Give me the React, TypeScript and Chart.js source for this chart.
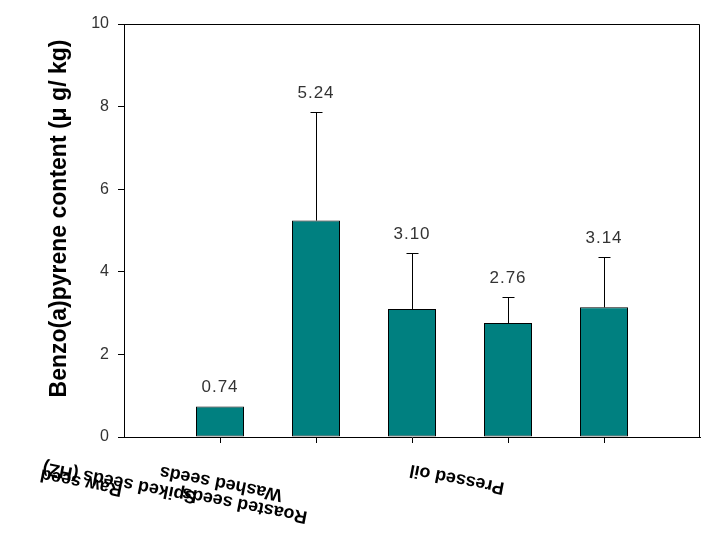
import React, { useEffect, useRef } from 'react';
import { Chart, registerables } from 'chart.js';

Chart.register(...registerables);

// ---- data ----
const categories = ['', 'Raw seed', 'Spiked seeds (HZ)', 'Washed seeds', 'Roasted seeds', 'Pressed oil', ''];
const meanValues: (number | null)[] = [null, 0.74, 5.24, 3.1, 2.76, 3.14, null];
const errorValues: (number | null)[] = [null, 0, 2.63, 1.35, 0.63, 1.22, null];
const yTicks = [0, 2, 4, 6, 8, 10];
const yTitle = 'Benzo(a)pyrene content (\u03bc g/ kg)';

// ---- layout of the rotated category labels (offset from tick / axis) ----
const labelNudge: [number, number][] = [[0, 0], [-97, 48], [-119, 55], [-129, 53], [-200, 75], [-99, 46], [0, 0]];

const decorPlugin = {
  id: 'decor',
  afterDatasetsDraw(chart: any) {
    const ctx = chart.ctx;
    const y = chart.scales.y;
    const meta = chart.getDatasetMeta(0);
    ctx.save();
    ctx.strokeStyle = '#000';
    ctx.lineWidth = 1;
    meta.data.forEach((bar: any, i: number) => {
      const v = meanValues[i];
      if (v == null) return;
      const e = errorValues[i] || 0;
      const top = y.getPixelForValue(v + e);
      const bx = Math.round(bar.x) + 0.5;
      const ty = Math.round(top) + 0.5;
      if (e > 0) {
        ctx.beginPath();
        ctx.moveTo(bx, bar.y);
        ctx.lineTo(bx, ty);
        ctx.moveTo(bx - 6, ty);
        ctx.lineTo(bx + 6, ty);
        ctx.stroke();
      }
      ctx.fillStyle = '#333';
      ctx.font = '17px "Liberation Sans", Arial, sans-serif';
      (ctx as any).letterSpacing = '1px';
      ctx.textAlign = 'center';
      ctx.textBaseline = 'alphabetic';
      ctx.fillText(v.toFixed(2), bar.x, top - 14);
      (ctx as any).letterSpacing = '0px';
    });
    ctx.restore();
  },
  afterDraw(chart: any) {
    const ctx = chart.ctx;
    const { left, right, top, bottom } = chart.chartArea;
    const x = chart.scales.x;
    ctx.save();
    // frame
    ctx.strokeStyle = '#000';
    ctx.lineWidth = 1;
    ctx.beginPath();
    ctx.moveTo(Math.round(left) + 0.5, Math.round(top) + 0.5);
    ctx.lineTo(Math.round(right) - 0.5, Math.round(top) + 0.5);
    ctx.lineTo(Math.round(right) - 0.5, Math.round(bottom) + 0.5);
    ctx.stroke();

    // rotated category labels
    ctx.fillStyle = '#000';
    ctx.font = 'bold 18px "Liberation Sans", Arial, sans-serif';
    ctx.textAlign = 'left';
    ctx.textBaseline = 'alphabetic';
    categories.forEach((label, i) => {
      if (!label) return;
      const px = x.getPixelForTick(i) + labelNudge[i][0];
      const py = bottom + labelNudge[i][1];
      ctx.save();
      ctx.translate(px, py);
      ctx.rotate((191 * Math.PI) / 180);
      ctx.fillText(label, 0, 0);
      ctx.restore();
    });

    // y axis title
    ctx.font = 'bold 23px "Liberation Sans", Arial, sans-serif';
    ctx.textAlign = 'center';
    ctx.textBaseline = 'middle';
    ctx.translate(60, (top + bottom) / 2 - 12);
    ctx.rotate(-Math.PI / 2);
    ctx.fillText(yTitle, 0, 0);
    ctx.restore();
  },
};

export default function App() {
  const ref = useRef<HTMLCanvasElement>(null);
  useEffect(() => {
    if (!ref.current) return;
    const chart = new Chart(ref.current, {
      type: 'bar',
      data: {
        labels: categories,
        datasets: [
          {
            data: meanValues as any,
            backgroundColor: '#008080',
            borderColor: '#000',
            borderWidth: 1,
            borderSkipped: false,
            barPercentage: 0.5,
            categoryPercentage: 1,
          },
        ],
      },
      options: {
        responsive: false,
        animation: false,
        layout: { padding: { top: 24, right: 19, left: 0, bottom: 0 } },
        plugins: { legend: { display: false }, tooltip: { enabled: false } },
        scales: {
          x: {
            type: 'category',
            offset: false,
            grid: {
              offset: false,
              drawOnChartArea: false,
              drawTicks: true,
              tickLength: 6,
              color: (c: any) => (c.index === 0 || c.index === categories.length - 1 ? 'rgba(0,0,0,0)' : '#000'),
            },
            border: { display: true, color: '#000', width: 1 },
            ticks: { display: false },
            afterFit: (s: any) => {
              s.height = 104;
            },
          },
          y: {
            min: 0,
            max: 10,
            grid: { drawOnChartArea: false, drawTicks: true, tickLength: 6, color: '#000' },
            border: { display: true, color: '#000', width: 1 },
            ticks: {
              color: '#333',
              padding: 9,
              font: { family: '"Liberation Sans", Arial, sans-serif', size: 16 },
            },
            afterBuildTicks: (s: any) => {
              s.ticks = yTicks.map((v) => ({ value: v }));
            },
            afterFit: (s: any) => {
              s.width = 124;
            },
          },
        },
      },
      plugins: [decorPlugin],
    });
    return () => chart.destroy();
  }, []);
  return (
    <div style={{ position: 'fixed', left: 0, top: 0, width: 719, height: 541, background: '#fff' }}>
      <canvas ref={ref} width={719} height={541} style={{ display: 'block' }} />
    </div>
  );
}
